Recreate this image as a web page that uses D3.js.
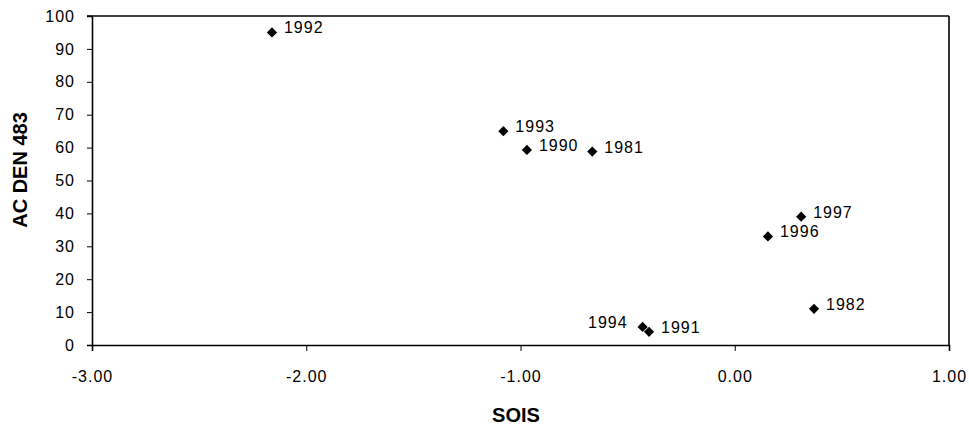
<!DOCTYPE html>
<html><head><meta charset="utf-8">
<script src="https://cdn.jsdelivr.net/npm/d3@7/dist/d3.min.js"></script>
<style>
html,body{margin:0;padding:0;background:#fff;}
svg{display:block;font-family:"Liberation Sans",Arial,sans-serif;}
</style></head>
<body>
<svg id="chart" width="969" height="430"></svg>
<script>
const years = ["1992","1993","1990","1981","1997","1996","1982","1994","1991"];
const soisValues = [-2.16, -1.08, -0.97, -0.665, 0.31, 0.155, 0.37, -0.43, -0.40];
const acDenValues = [95, 65, 59.3, 58.8, 39, 33, 11, 5.5, 4.0];
const labelSide = ["right","right","right","right","right","right","right","left","right"];
const xTicks = [-3, -2, -1, 0, 1];
const yTicks = [0,10,20,30,40,50,60,70,80,90,100];
const xTitle = "SOIS";
const yTitle = "AC DEN 483";

const svg = d3.select("#chart");
const m = {left: 92, right: 949, top: 16, bottom: 345};
const x = d3.scaleLinear().domain([-3, 1]).range([m.left, m.right]);
const y = d3.scaleLinear().domain([0, 100]).range([m.bottom, m.top]);
const FONT = "'Liberation Sans', Arial, sans-serif";

// frame (top and right)
svg.append("line").attr("x1", m.left - 5).attr("x2", m.right).attr("y1", m.top).attr("y2", m.top)
  .attr("stroke", "#000").attr("stroke-width", 1.6);
svg.append("line").attr("x1", m.right).attr("x2", m.right).attr("y1", m.top).attr("y2", m.bottom)
  .attr("stroke", "#000").attr("stroke-width", 1.6);

// y axis
const yAxis = svg.append("g").attr("transform", `translate(${m.left},0)`)
  .call(d3.axisLeft(y).tickValues(yTicks).tickSize(5).tickPadding(12).tickFormat(d3.format("d")));
yAxis.select(".domain").attr("stroke-width", 1.6);
yAxis.selectAll("text").attr("font-size", 16).attr("letter-spacing", 1).attr("fill", "#000")
  .attr("font-family", FONT);

// x axis
const fmtX = d => d3.format(".2f")(d).replace("\u2212", "-");
const xAxis = svg.append("g").attr("transform", `translate(0,${m.bottom})`)
  .call(d3.axisBottom(x).tickValues(xTicks).tickSize(6).tickPadding(20).tickFormat(fmtX));
xAxis.select(".domain").attr("stroke-width", 1.6);
xAxis.selectAll("text").attr("font-size", 16).attr("letter-spacing", 1).attr("fill", "#000")
  .attr("font-family", FONT);

// titles
svg.append("text").attr("x", 516).attr("y", 422)
  .attr("text-anchor", "middle").attr("font-size", 20).attr("font-weight", "bold").text(xTitle);
svg.append("text").attr("transform", `translate(27,170) rotate(-90)`)
  .attr("text-anchor", "middle").attr("font-size", 20).attr("font-weight", "bold").text(yTitle);

// points
const data = years.map((yr, i) => ({yr, sx: soisValues[i], ay: acDenValues[i], side: labelSide[i]}));
const sym = d3.symbol().type(d3.symbolSquare).size(52);
svg.append("g").selectAll("path").data(data).join("path")
  .attr("d", sym)
  .attr("transform", d => `translate(${x(d.sx)},${y(d.ay)}) rotate(45)`)
  .attr("fill", "#000");

svg.append("g").selectAll("text").data(data).join("text")
  .attr("x", d => x(d.sx) + (d.side === "left" ? -15 : 12))
  .attr("y", d => y(d.ay) + 1)
  .attr("text-anchor", d => d.side === "left" ? "end" : "start")
  .attr("font-size", 16).attr("letter-spacing", 1).attr("fill", "#000")
  .text(d => d.yr);
</script>
</body></html>
